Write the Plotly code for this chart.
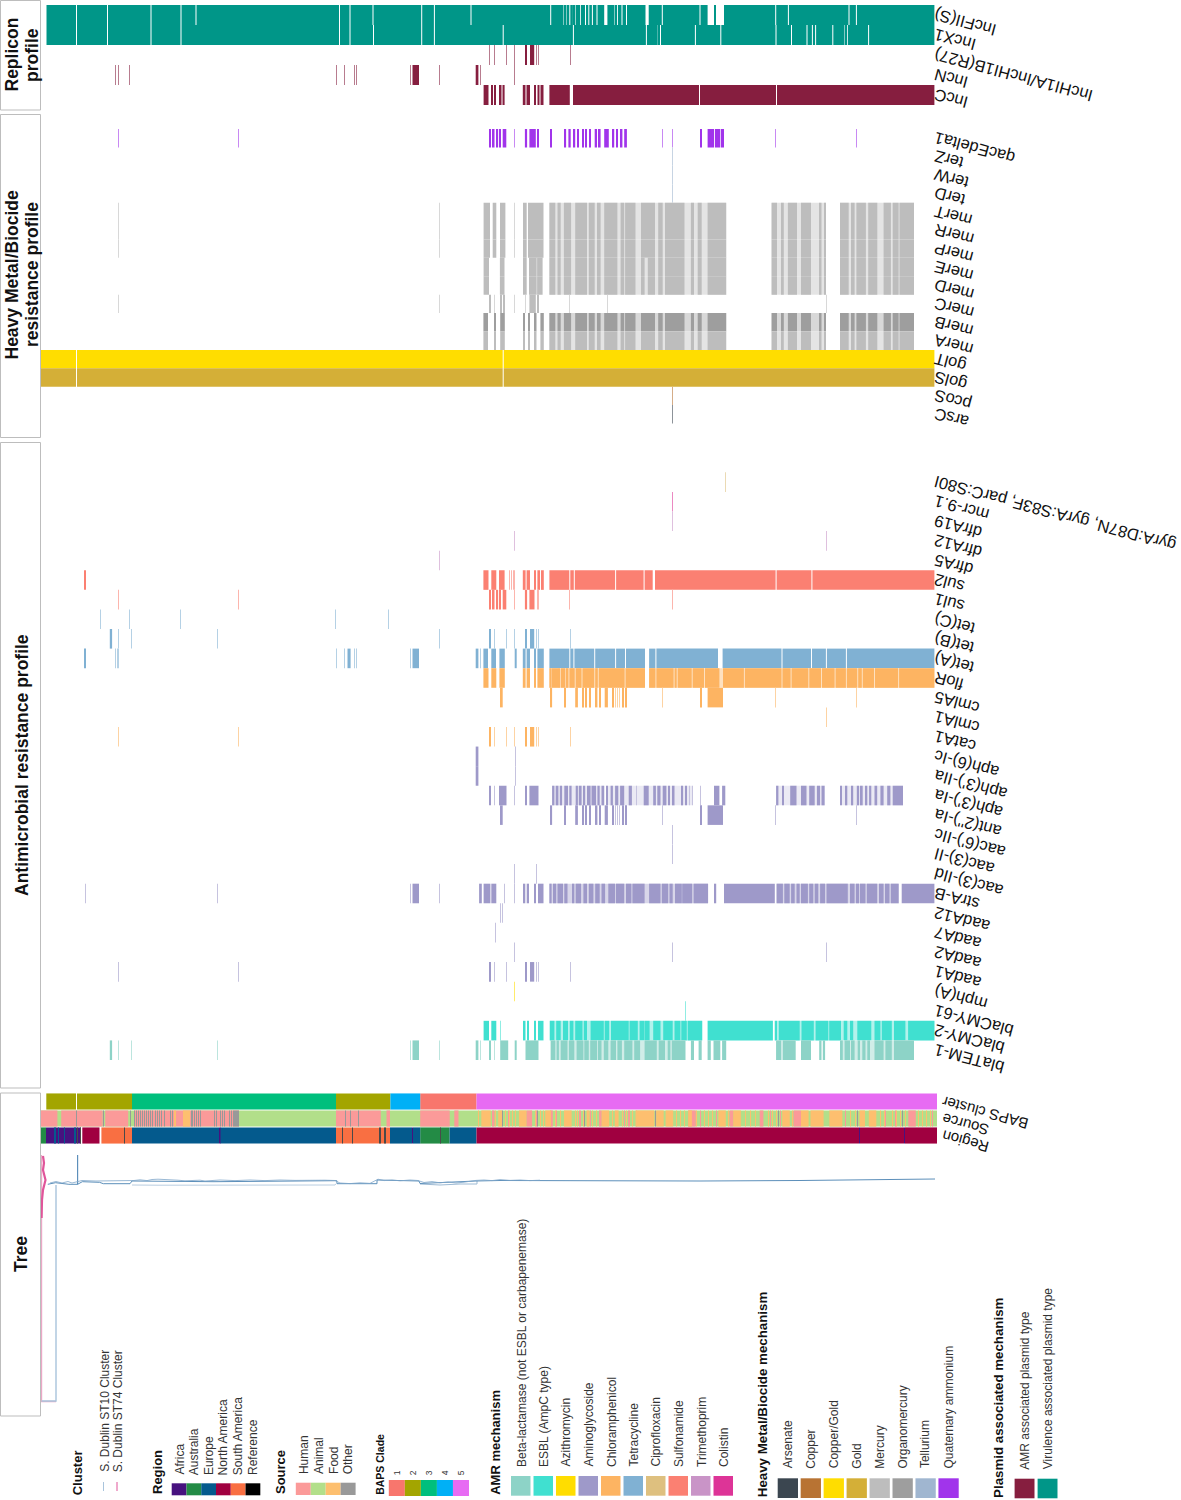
import plotly.graph_objects as go

FONT = "Liberation Sans"
W, H = 1181, 1500


def cut(start, end, gaps):
    out, cur = [], start
    for g in gaps:
        a, b = g if isinstance(g, tuple) else (g - 0.5, g + 0.5)
        out.append((cur, a))
        cur = b
    out.append((cur, end))
    return out


# ---- colours
AMR_NAMES = ["Beta-lactamase (not ESBL or carbapenemase)", "ESBL (AmpC type)", "Azithromycin", "Aminoglycoside",
             "Chloramphenicol", "Tetracycline", "Ciprofloxacin", "Sulfonamide", "Trimethoprim", "Colistin"]
AMR_COLS = ["#8DD3C7", "#40E0D0", "#FFDD00", "#9E99C9", "#FDB462", "#80B1D3", "#DEC07F", "#FB8072", "#C994C7", "#DD3497"]
HM_NAMES = ["Arsenate", "Copper", "Copper/Gold", "Gold", "Mercury", "Organomercury", "Tellurium", "Quaternary ammonium"]
HM_COLS = ["#3B4650", "#B87333", "#FFDD00", "#D4AF37", "#BDBDBD", "#9E9E9E", "#A0B6D0", "#A134EB"]
PL_NAMES = ["AMR associated plasmid type", "Virulence associated plasmid type"]
PL_COLS = ["#861E3F", "#009688"]
REGION_NAMES = ["Africa", "Australia", "Europe", "North America", "South America", "Reference"]
REGION_COLS = ["#47127F", "#238B45", "#045A8D", "#A00040", "#F96F42", "#000000"]
SOURCE_NAMES = ["Human", "Animal", "Food", "Other"]
SOURCE_COLS = ["#FB9A99", "#B2DF8A", "#FDBF6F", "#999999"]
BAPS_NAMES = ["1", "2", "3", "4", "5"]
BAPS_COLS = ["#F8766D", "#A3A500", "#00BF7D", "#00B0F6", "#E76BF3"]

# ---- shared stretches of tree positions
SINGLE_SET = [489.5, 494, 506, 514.7, (525.5, 526.6), (530, 534.2), 536.5, 538.5, 570.2]
MER_RIGHT = [(549.4, 555.3), (557.5, 560.7), (563.9, 571.1), (575.2, 587), (588.8, 594.7), (597, 600.6), (604.2, 617.4),
             (620.6, 624.2), (625.1, 635.5), (641, 655), (658.2, 662.7), (665, 684.5), (690.9, 694), (697.7, 701.7),
             (707.6, 726.2), (771.6, 777), (781, 783.8), (787.9, 797), (801, 811), (819.7, 821.5), (824.6, 826),
             (840, 848.7), (851, 854.6), (856.4, 865.9), (868.2, 877.3), (883.6, 890.9), (892.7, 898.6), (899.5, 914)]
MER_E_RIGHT = [(549.4, 555.3), (557.5, 560.7), (563.9, 571.1), (575.2, 587), (588.8, 594.7), (597, 600.6), (604.2, 617.4),
               (620.6, 624.2), (625.1, 635.5), (641, 644.6), (647.8, 655), (658.2, 662.7), (665, 684.5), (690.9, 694),
               (697.7, 701.7), (707.6, 726.2), (771.6, 777), (781, 783.8), (787.9, 797), (801, 811), (819.7, 821.5),
               (824.6, 826), (840, 848.7), (851, 854.6), (856.4, 865.9), (868.2, 877.3), (883.6, 890.9), (892.7, 898.6),
               (899.5, 914)]
MER_B_LEFT = [(483.4, 488), (494, 496), (500.2, 504.8), (523, 525), (528, 530), (534.6, 536.5), (540.4, 543.8)]
CML_ANT = [(500.8, 502.7), (550.7, 552.1), (564.8, 565.7), (575.2, 577.9), (582, 583.8), (585.6, 587), (589.3, 590.6),
           (595.6, 597.4), (599.2, 600.1), (604.7, 607.9), (612.9, 613.8), 615.3, 617.6, 619.9, (622.4, 623.3),
           (625.6, 626.9), 662.7, (700, 701.7), (707.6, 723), 775.9, 856.6]

# ---- Replicon rows
REP_LABELS = ["IncFII(S)", "IncX1", "IncHI1A/IncHI1B(R27)", "IncN", "IncC"]
REP_COLORS = [PL_COLS[1], PL_COLS[1], PL_COLS[0], PL_COLS[0], PL_COLS[0]]
REP_SPANS = [
    cut(46.5, 934.4, [76.5, 107.5, 151, 181, 196, 339.5, 350, 373, 421.7, 434.4, 471, 550.7, 564, 566, 569.8, 573.4, 575.9,
                      578, 580.7, 583, 585.5, 588.8, 592.4, 597, (604.2, 607.4), 615, 617.4, 622, 626.5, (645.5, 648.7),
                      662.3, 700, (707.6, 714), (716, 724), 775.7, 788.4, 849, 856.4]),
    cut(46.5, 934.4, [76.5, 107.5, 151, 181, 339.5, 350, 373.5, 421.7, 434.4, 503.2, 573.4, 646.4, 658.2, 660.5, 695.4,
                      720.8, 776, 791.5, 807, 812.4, 815.6, 832.8, 845, 847.3, 868.6]),
    SINGLE_SET,
    [115.6, 118.6, 129.4, 336.8, 344.8, 354, 356.7, 410.3, (412.5, 419), 439.3, (475.7, 478.4), 480, 514.7],
    [(483.6, 488.5), (491.3, 493), (494, 496), (499, 501.5), (502.5, 504.6), (522.8, 525.5), (526.5, 530), (534.6, 536),
     (537.5, 539.5), (540.5, 543.5)] + cut(549.4, 934.4, [(569.8, 573), 699.5, 776.5]),
]

# ---- Heavy metal rows
HM_LABELS = ["qacEdelta1", "terZ", "terW", "terD", "merT", "merR", "merP", "merE", "merD", "merC", "merB", "merA",
             "golT", "golS", "pcoS", "arsC"]
HM_ROW_COLORS = [HM_COLS[7], HM_COLS[6], HM_COLS[6], HM_COLS[6], HM_COLS[4], HM_COLS[4], HM_COLS[4], HM_COLS[4], HM_COLS[4],
                 HM_COLS[4], HM_COLS[5], HM_COLS[4], HM_COLS[2], HM_COLS[3], HM_COLS[1], HM_COLS[0]]
QAC = [118.6, 238, (489, 490.9), (492.7, 494.5), (496.3, 498.1), (499.9, 500.8), (502.7, 506.3), 514.4,
       (524.9, 527.1), (529.4, 535.8), (537.1, 538.9), (550.7, 552), (564.8, 566.1), (568.4, 570.7), (573.4, 575.2),
       (577, 578.8), (582, 583.8), (585.2, 587), (589.3, 590.6), (594.7, 597), (598.8, 600.6), (604.2, 608.8),
       (612.4, 614.2), (616, 617.8), (620.6, 622.4), (624.2, 626.9), 662.3, 672.3, (700, 701.7), (707.6, 714),
       (714.9, 720.3), (721, 724), 775.7, 856.4]
MER_TRP = [118.6, 439.3, (483.6, 490), (492.7, 496.3), (500, 505.4), 514.9, (523, 526.7), (528, 543.5)] + MER_RIGHT
MER_ED = [(483.6, 489), (499.9, 504.5), (523, 526.7), (529, 536.7), (537.1, 542.6)] + MER_E_RIGHT
MER_C = [118.6, 439.3, (489.5, 491), 494, (500.2, 501.8), (503.2, 505), 514.7, 525.5, (529.4, 535.8), (537.1, 538.9),
         569.8, 607, 826]
MER_AB = MER_B_LEFT + MER_RIGHT
HM_SPANS = [QAC, [672.3], [672.3], [672.3], MER_TRP, MER_TRP, MER_TRP, MER_ED, MER_ED, MER_C, MER_AB, MER_AB,
            cut(41, 934.4, [76.5, 503.2]), cut(41, 934.4, [76.5, 503.2]), [672.3], [672.3]]
MER_UNDER = [(549.4, 726.2), (771.6, 826), (840, 914)]
HM_UNDER = {"merT": MER_UNDER, "merR": MER_UNDER, "merP": MER_UNDER, "merE": MER_UNDER, "merD": MER_UNDER,
            "merB": MER_UNDER, "merA": MER_UNDER}

# ---- AMR rows
AMR_LABELS = ["gyrA:D87N, gyrA:S83F, parC:S80I", "mcr-9.1", "dfrA19", "dfrA12", "dfrA5", "sul2", "sul1", "tet(C)", "tet(B)",
              "tet(A)", "floR", "cmlA5", "cmlA1", "catA1", "aph(6)-Ic", "aph(3')-IIa", "aph(3')-Ia", "ant(2'')-Ia",
              "aac(6')-IIc", "aac(3)-II", "aac(3)-IId", "strA-B", "aadA12", "aadA7", "aadA2", "aadA1", "mph(A)",
              "blaCMY-61", "blaCMY-2", "blaTEM-1"]
AMR_ROW_COLORS = [AMR_COLS[6], AMR_COLS[9], AMR_COLS[8], AMR_COLS[8], AMR_COLS[8], AMR_COLS[7], AMR_COLS[7], AMR_COLS[5],
                  AMR_COLS[5], AMR_COLS[5], AMR_COLS[4], AMR_COLS[4], AMR_COLS[4], AMR_COLS[4], AMR_COLS[3], AMR_COLS[3],
                  AMR_COLS[3], AMR_COLS[3], AMR_COLS[3], AMR_COLS[3], AMR_COLS[3], AMR_COLS[3], AMR_COLS[3], AMR_COLS[3],
                  AMR_COLS[3], AMR_COLS[3], AMR_COLS[2], AMR_COLS[1], AMR_COLS[1], AMR_COLS[0]]
SUL2 = [(84.3, 85.7), (483.4, 488.5), (491.3, 496.3), (499, 504.6), 509.5, 511, 513, 514.4, (522.8, 525.6), (526.6, 530),
        (534.6, 536), (537.4, 540), (541, 543.8)] + cut(549.4, 934.4, [569.8, 574.3, 615.6, 644.1, (652.7, 655), 776.1, 811.9])
SUL1 = [118.6, 238, (489, 490.9), (492.7, 494.5), (496.3, 498.1), (499.9, 500.8), (502.7, 506.3), 514.4,
        (524.9, 527.1), (529.4, 534.5), 537, 538.5, 569.8, 672.3]
TET_C = [100.3, 129.4, 180.6, 335.6, 388.8]
TET_B = [(109.8, 112.1), 118.6, 131.6, 217.8, 439.3, (489.5, 491), 494, 506, 514.7, (525.5, 526.6), (530, 534.2), 536.5,
         538.5, 570.2]
TET_A = [(84.3, 85.7), 115.6, 117.6, 118.6, 336.8, 344.8, (347.5, 350.6), 354, 356.7, 410.3, (412.5, 419),
         (475.7, 478.4), 480, (483.4, 488), (491.3, 496), (499.4, 504.8), (514.7, 516.7), (522.8, 525.6), (526.6, 530),
         (534.6, 536), (537.4, 543.8)] + cut(549.4, 934.4, [569.8, 573.9, 594.7, 615.6, 625.5, (645, 649.1), 655.9, (718, 722.6),
                                                           782, 811.5, 826.4, 846.4])
FLOR = [(483.4, 488.5), (491.3, 496.3), (499.4, 504.8), (522.8, 525.6), (526.6, 530), (534.6, 536), (537.4, 543.8)] + \
    cut(549.4, 934.4, [552.1, 554.4, 556.2, 558.4, 560.7, 563, 565.2, 568.9, 575.2, 582, 594.7, 598.3, 625.1, (645, 649.1),
                       655.9, 674.1, 677.2, 692.2, 704.5, (719.4, 723), 744.4, 782, 791.1, 808.8, 821.5, 835.1, 846.4, 857.7,
                       862.3, 874.5, 898.6])
CAT_A1 = [118.6, 238, (489.5, 491), 494, 506, 514.7, (525.5, 526.6), (530, 534.2), 536.5, 538.5, 570.2]
APH_6 = [(475.7, 478.4), 515.9]
APH_IA = [(489.5, 491), 494, (499, 506.5), 514.7, (525.5, 526.6), (529.4, 538.5), (552.1, 554.4), (555.7, 558.4), (559.8, 562.1),
          (564.3, 568), (569.3, 571.6), (575.7, 577.9), (578.8, 581.6), (583.4, 585.2), (587, 590.6), (591.5, 596.1),
          (597.4, 599.7), (601.5, 604.2), (606, 607.9), (610.6, 612.9), (615.1, 618.3), (620.1, 624.2), (628.7, 631.9),
          636.4, (643.7, 648.7), (653.2, 655.9), (657.3, 660.5), (662.7, 666.4), (668.2, 670), (672.7, 674.5), (681.3, 683.1),
          (685, 686.8), 689, 692.2, 700.4, (714, 719.4), (722.1, 725.3), (776.1, 778.4), (782, 783.8), (790.2, 796.5),
          (801, 806.5), (809.2, 814.7), (816.9, 820.1), (821.5, 824.6), (840, 841.9), (845.5, 847.3), (851, 853.2),
          (856.8, 859.1), (860.9, 862.7), (865.4, 867.3), (869.1, 871.3), (874.5, 877.2), (880.4, 883.6), (887.2, 890.4),
          (892.7, 903)]
STRA = [85, 217.8, 410.3, (412.5, 419), 439.3, (479.1, 481.8), (483.6, 490.4), (491.3, 496.3), 504, 514.4, (523, 525.3),
        (526.7, 529), (534.4, 536), (538, 543.5), (549.4, 551.6), (553, 556.2), (557.5, 563), (564.3, 567.5), (572, 574.3),
        (575.7, 581.1), (583.4, 587), (588.8, 593.4), (595.2, 599.7), (601.5, 605.1), (608.3, 615.1), (616, 624.2), (626, 631.4),
        (632.4, 644.6), (649.1, 660.5), (661.8, 668.2), (669.5, 672.7), (675, 681.8), (682.2, 692.2), (693.6, 708.1),
        (714, 716.2), (724, 774.8), (776.6, 782.9), (784.3, 789.7), (791.1, 794.7), (796.5, 799.7), (801, 807.9),
        (809.2, 813.3), (814.7, 818.3), (820.1, 825.1), (826.5, 847.8), (850, 854.6), (855.9, 859.1), (860, 865.5),
        (866.8, 877.2), (879, 883.6), (885, 889.5), (890.8, 898.6), (901.7, 934.4)]
AAD_A1 = [118.6, 238, (489.5, 491), 494, 506, (525.5, 526.6), (530, 534.2), 536.5, 538.5, 570.2]
CMY_2 = [(483.6, 489), (491.3, 496.3), 500.4, (523, 525.5), (527, 529), (534.5, 535.5), (538, 543.5), (549.8, 554.4),
         (556.2, 560.7), (563, 568), (569.8, 573.4), (575.2, 582.5), (583.8, 587), (590.6, 603.8), (604.7, 609.2), (611, 628.7),
         (629.6, 637.8), (639.6, 644.6), (645, 649.6), (653.2, 660.5), (663.2, 672.7), (674.5, 680.4), (681.3, 686.8),
         (687.7, 702.2), (707.6, 772.9), (774.8, 777), (778.8, 799.7), (801.5, 813.8), (815.6, 828.3), (829.2, 841),
         (843.7, 847.3), (850, 853.2), (857.3, 871.3), (874.5, 880.4), (881.8, 891.8), (894, 905.4), (908.1, 934.4)]
TEM_1 = [(109.8, 112.1), 118.6, 131.6, 217.8, 410.3, (412.5, 419), 439.3, (475.7, 478.4), 480, (489.5, 491), 494, (500.2, 508.2),
         (514.7, 516.7), (525.5, 538.5), (550.7, 555.3), (556.6, 558.9), (560.7, 567.5), (568.9, 574.3), (576.6, 583.4),
         (584.3, 588.8), (590.2, 597), (597.9, 601.5), (603.8, 608.3), (610.6, 616), (617.4, 621.9), (624.2, 632.4), (634.2, 640.1),
         (644.6, 656.8), (658.7, 665), (667.7, 670.4), (671.8, 685.4), (690.9, 694), (698.6, 701.7), (707.6, 710.8), (713.5, 720.3),
         (722.1, 726.2), (776.1, 781.1), (782.9, 795.6), (801, 811), (819.2, 821.5), (822.8, 825.1), (840, 842.8), (844.6, 850),
         (851, 854.6), (857.7, 860), (862.3, 865.5), (867.3, 870), (874.5, 883.6), (885.4, 891.8), (894, 914)]
AMR_SPANS = [[725.3], [672.3], [672.3], [514.4, 826], [439.3], SUL2, SUL1, TET_C, TET_B, TET_A, FLOR, CML_ANT, [826], CAT_A1,
             APH_6, APH_6, APH_IA, CML_ANT, [672.3], [672.3], [514.7, 536.9], STRA, [500.6, 502.8], [495.2],
             [514.7, 672.3, 826], AAD_A1, [514.7], [685], CMY_2, TEM_1]
AMR_UNDER = {"floR": [(549.4, 645), (649.1, 934.4)],
             "aph(3')-Ia": [(552.1, 604.2), (606, 692.2), (776.1, 825), (840, 903)],
             "strA-B": [(549.4, 708), (776.6, 899)],
             "blaCMY-2": [(549.8, 702.2), (774.8, 934.4)],
             "blaTEM-1": [(550.7, 685.4), (776.1, 795.6), (840, 914)]}

# ---- annotation tracks
META_LABELS = ["BAPS cluster", "Source", "Region"]
BAPS_TRACK = {1: [(420.2, 476.5)], 2: [(46.3, 76), (77, 132), (336, 390.4)], 3: [(132, 336)], 4: [(390.4, 420.2)], 5: [(476.5, 937)]}
SOURCE_TRACK = {
    "Animal": [(41, 937)],
    "Human": [(41, 57.4), (61.2, 102.6), (105.2, 128.2), (134, 239), (336, 380.8), (386.5, 390),
              (420.2, 449.7), (454.3, 458.5), (492.6, 494.5), (526.4, 532.1), (550.9, 552.8), (579.1, 581), (599.8, 601.7),
              (628, 629.9), (688.2, 695.7), (729.6, 733.3), (759.7, 763.4), (793.5, 801), (908.3, 915.8),
              508, 536, 556, 590, 624, 636, 700, 716, 770, 780, 845, 885, 895, 932],
    "Food": [(174, 176), (183, 190), (481.3, 490.7), (498.2, 502), (518.9, 526.4), (545.2, 550.9), (564, 571.6), (586.6, 589.6),
             (601.7, 609.2), (614.8, 618.6), (635.5, 654.3), (656.2, 663.7), (665.6, 673.2), (688.2, 691.9), (718.3, 725.8),
             (733.3, 740.9), (782.2, 789.8), (801, 808.6), (810.5, 823.6), (829.3, 842.4), (859.4, 865), (868.8, 876.3),
             478, 495, 505, 509, 512, 515, 535, 540, 543, 555, 560, 575, 577, 583, 592, 596, 612, 622, 626, 632, 676, 680, 684,
             696, 704, 708, 712, 728, 745, 750, 755, 768, 772, 776, 792, 850, 855, 880, 884, 892, 896, 900, 905, 918, 922, 926, 930],
    "Other": [76, 103.5, 130, 134, 136, 138, 140, 142, 144, 146, 148, 150, 152, 155, 157, 159, 161, 164, 170, 172,
              (191, 193), 194, 196, 198, 200, 214, 216, 220, 222, 224, 229, 231, 233, 234, 235, 236, 237, 238,
              345, 350, 358, 502, 537.7, 584.7, 655.1, 778.5, 857.5, 902.6],
}
REGION_TRACK = {
    "Australia": [(41, 46), (420.2, 449.6)],
    "Africa": [(46, 81), (219, 220.5), 412, 859.4, 904.5],
    "Europe": [(54, 55.5), (58, 59), (64, 65), (74, 76), (132, 219), (220.5, 336), (390, 412), (413, 420.2), (449.6, 476.5)],
    "North America": [(82.3, 99.5), (476.5, 859), (860, 904), (905, 937)],
    "South America": [(101.4, 132), (336, 390)],
    "Reference": [(77, 78), (80, 81), (124, 125), (342, 343), (352, 353), (379, 381), (384, 386), (440, 441)],
}
REGION_STRIPE_COLS = {"Australia": REGION_COLS[1], "Africa": REGION_COLS[0], "Europe": REGION_COLS[2],
                      "North America": REGION_COLS[3], "South America": REGION_COLS[4], "Reference": "#4A4A4A"}

# ---- tree
TREE_MAIN_X = [47.8, 55.5, 68.9, 77.6, 77.6, 77.6, 82.3, 99.5, 103.3, 130, 132, 180, 214, 336.8, 337, 377, 377, 419, 420, 476, 500, 700, 800, 935]
TREE_MAIN_Y = [1184.3, 1182.7, 1184.3, 1184.3, 1155, 1184.3, 1181.7, 1182.3, 1183.7, 1183.7, 1181, 1181, 1181.7, 1180.7, 1183.7, 1183.7, 1180, 1181, 1183.5, 1181, 1180.5, 1181, 1180.5, 1179]
TREE_HAIR_X = [50, 56, 62, 68, 72, 82, 90, 96, 134, 140, 147, 152, 158, 165, 172, 178, 185, 200, 205, 220, 235, 250, 265, 280, 295, 310, 325, 335,
               340, 350, 360, 370, 378, 384, 392, 400, 410, 418, 424, 432, 440, 448, 456, 464, 476, 484, 492, 500, 510, 520, 530, 540]
TREE_HAIR_Y = [1183, 1181.5, 1183, 1181.5, 1183, 1180.5, 1180.8, 1181, 1180.5, 1179.8, 1180.6, 1179.5, 1179.2, 1179.3, 1179.5, 1180.2, 1180.8, 1180.2, 1181,
               1180, 1180.6, 1180, 1180.6, 1180, 1180.4, 1180, 1180.2, 1180.5,
               1183, 1183.6, 1182.8, 1183.4, 1179.2, 1180.6, 1180, 1180.8, 1180, 1180.5, 1182.5, 1181.6, 1182.8, 1182, 1183, 1182.2, 1180.4, 1180, 1180.6, 1179.6,
               1180.4, 1180, 1180.6, 1180.2]
TREE_LOWER_X = [132, 158, 335, 336]
TREE_LOWER_Y = [1185, 1185.2, 1185, 1183.7]
TREE_BOX_X = [420, 440, 460, 477, 477]
TREE_BOX_Y = [1184, 1185, 1184, 1184, 1181]
TREE_ST10_X = [41.5, 56, 56]
TREE_ST10_Y = [1401, 1401, 1185]
TREE_ST74_X = [56, 41.5, 41.5]
TREE_ST74_Y = [1401.5, 1401.5, 1155]
TREE_ST74_TIPS_X = [43, 44, 43, 44.5, 45.5, 44.5, 43, 42, 41.6, 41.6]
TREE_ST74_TIPS_Y = [1156, 1163, 1170, 1175, 1180, 1184, 1190, 1200, 1210, 1218]

fig = go.Figure()


def tint(col, amount):
    r, g, b = int(col[1:3], 16), int(col[3:5], 16), int(col[5:7], 16)
    return "#%02x%02x%02x" % tuple(int(v + (255 - v) * amount) for v in (r, g, b))


def add_rows(axis, labels, colors, spans, under=None):
    under = under or {}
    for i, (row, col) in enumerate(zip(spans, colors)):
        if labels[i] in under:
            sp = under[labels[i]]
            pale = tint(col, 0.8 if labels[i].startswith("aph") else 0.6)
            fig.add_trace(go.Bar(x=[b - a for a, b in sp], base=[a for a, b in sp], y=[i] * len(sp), orientation="h", width=1.0,
                                 yaxis=axis, xaxis="x", marker=dict(color=pale, line=dict(width=0)),
                                 showlegend=False, hoverinfo="skip", name=labels[i] + " (blend)"))
        base, wid, cols = [], [], []
        for s in row:
            if isinstance(s, tuple):
                base.append(s[0])
                wid.append(s[1] - s[0])
                cols.append(col)
            else:
                base.append(int(s) + 0.2)
                wid.append(0.6)
                cols.append(tint(col, 0.42))
        fig.add_trace(go.Bar(x=wid, base=base, y=[i] * len(base), orientation="h", width=1.0, yaxis=axis, xaxis="x",
                             marker=dict(color=cols, line=dict(width=0)), showlegend=False, hoverinfo="skip",
                             name=labels[i]))


add_rows("y", REP_LABELS, REP_COLORS, REP_SPANS)
add_rows("y2", HM_LABELS, HM_ROW_COLORS, HM_SPANS, HM_UNDER)
add_rows("y3", AMR_LABELS, AMR_ROW_COLORS, AMR_SPANS, AMR_UNDER)

meta_names, meta_cols, meta_spans, meta_rows = [], [], [], []
for k, v in BAPS_TRACK.items():
    meta_names.append(f"BAPS {k}"); meta_cols.append(BAPS_COLS[k - 1]); meta_spans.append(v); meta_rows.append(0)
for n in ["Animal", "Human", "Food", "Other"]:
    meta_names.append(n); meta_cols.append(SOURCE_COLS[SOURCE_NAMES.index(n)]); meta_spans.append(SOURCE_TRACK[n]); meta_rows.append(1)
for n, v in REGION_TRACK.items():
    meta_names.append(n); meta_cols.append(REGION_STRIPE_COLS[n]); meta_spans.append(v); meta_rows.append(2)
for name, col, row, r in zip(meta_names, meta_cols, meta_spans, meta_rows):
    base = [s[0] if isinstance(s, tuple) else int(s) + 0.2 for s in row]
    wid = [s[1] - s[0] if isinstance(s, tuple) else 0.6 for s in row]
    fig.add_trace(go.Bar(x=wid, base=base, y=[r] * len(base), orientation="h", width=0.95, yaxis="y4", xaxis="x",
                         marker=dict(color=col, line=dict(width=0)), showlegend=False, hoverinfo="skip", name=name))

BLUE, PALE_BLUE, PINK, PALE_PINK = "#5C8FBA", "#A9C4DC", "#E0559A", "#EBA8C6"
for xs, ys, col, w in [(TREE_LOWER_X, TREE_LOWER_Y, "#B9CDE0", 1), (TREE_BOX_X, TREE_BOX_Y, "#9DBAD4", 1),
                       (TREE_ST74_X, TREE_ST74_Y, PALE_PINK, 1.4), (TREE_ST10_X, TREE_ST10_Y, PALE_BLUE, 1.4),
                       (TREE_MAIN_X, TREE_MAIN_Y, BLUE, 1), (TREE_HAIR_X, TREE_HAIR_Y, "#7FA6C9", 0.8),
                       (TREE_ST74_TIPS_X, TREE_ST74_TIPS_Y, PINK, 2.2)]:
    fig.add_trace(go.Scatter(x=xs, y=ys, mode="lines", line=dict(color=col, width=w), yaxis="y5", xaxis="x",
                             showlegend=False, hoverinfo="skip"))


def rows_axis(labels, top, bottom, pos=934.0, size=16.5):
    n = len(labels)
    row_h = (bottom - top) / n
    pad_t, pad_b = min(top, 20), 20
    return dict(domain=[1 - (bottom + pad_b) / H, 1 - (top - pad_t) / H],
                range=[n - 0.5 + pad_b / row_h, -0.5 - pad_t / row_h], tickmode="array", tickvals=list(range(n)),
                ticktext=labels, side="left", anchor="free", position=pos / W, tickangle=-165, ticks="", ticklabelshift=-4,
                showgrid=False, zeroline=False, showline=False, automargin=False, fixedrange=True,
                tickfont=dict(family=FONT, size=size, color="#111111"))


ax_rep = rows_axis(REP_LABELS, 5, 105)
ax_hm = rows_axis(HM_LABELS, 129, 423.5)
ax_amr = rows_axis(AMR_LABELS, 472.3, 1060)
ax_meta = rows_axis(META_LABELS, 1093, 1144, pos=942.0, size=15)

fig.update_layout(
    width=W, height=H, margin=dict(l=0, r=0, t=0, b=0), autosize=False, barmode="overlay",
    plot_bgcolor="rgba(0,0,0,0)", paper_bgcolor="white",
    font=dict(family=FONT), showlegend=False,
    xaxis=dict(domain=[0, 1], range=[0, W], visible=False, fixedrange=True, anchor="y5"),
    yaxis=ax_rep, yaxis2=ax_hm, yaxis3=ax_amr, yaxis4=ax_meta,
    yaxis5=dict(domain=[0, 1], range=[H, 0], visible=False, fixedrange=True, anchor="x"),
)

anns, shapes = [], []


def vtext(x, y, text, size=12, bold=False, color="#333333", anchor="bottom"):
    anns.append(dict(x=x, y=y, xref="x", yref="y5", text=f"<b>{text}</b>" if bold else text, showarrow=False, textangle=-90,
                     xanchor="center", yanchor=anchor, font=dict(family=FONT, size=size, color=color), borderpad=0))


def frame(x0, y0, x1, y1):
    shapes.append(dict(type="rect", xref="x", yref="y5", x0=x0, y0=y0, x1=x1, y1=y1, line=dict(color="#BDBDBD", width=1), fillcolor="rgba(0,0,0,0)"))


def swatch(x0, y0, x1, y1, col):
    shapes.append(dict(type="rect", xref="x", yref="y5", x0=x0, y0=y0, x1=x1, y1=y1, line=dict(width=0), fillcolor=col))


frame(0.5, 0.5, 40.5, 110)
frame(0.5, 114.5, 40.5, 437.5)
frame(0.5, 442.5, 40.5, 1088)
frame(0.5, 1093, 40.5, 1416)
vtext(11.5, 55, "Replicon", 17.5, True, "#111111", "middle")
vtext(32, 55, "profile", 17.5, True, "#111111", "middle")
vtext(11.5, 275, "Heavy Metal/Biocide", 17.5, True, "#111111", "middle")
vtext(32, 275, "resistance profile", 17.5, True, "#111111", "middle")
vtext(22, 765, "Antimicrobial resistance profile", 17.5, True, "#111111", "middle")
vtext(21, 1254, "Tree", 17.5, True, "#111111", "middle")

vtext(77.8, 1496, "Cluster", 13, True, "#111111")
vtext(104.8, 1473, "S. Dublin ST10 Cluster")
vtext(118.3, 1473, "S. Dublin ST74 Cluster")
shapes.append(dict(type="line", xref="x", yref="y5", x0=103.5, x1=103.5, y0=1482, y1=1491, line=dict(color=PALE_BLUE, width=1)))
shapes.append(dict(type="line", xref="x", yref="y5", x0=117, x1=117, y0=1482, y1=1491, line=dict(color=PINK, width=1)))

vtext(157, 1495, "Region", 13, True, "#111111")
for i, (n, c) in enumerate(zip(REGION_NAMES, REGION_COLS)):
    vtext(179 + i * 14.8, 1476, n)
    swatch(171.7 + i * 14.77, 1483.3, 171.7 + (i + 1) * 14.77, 1495.3, c)
vtext(280, 1495, "Source", 13, True, "#111111")
for i, (n, c) in enumerate(zip(SOURCE_NAMES, SOURCE_COLS)):
    vtext(303.6 + i * 14.9, 1475, n)
    swatch(295.8 + i * 14.95, 1482.7, 295.8 + (i + 1) * 14.95, 1495, c)
vtext(379.3, 1496, "BAPS Clade", 10.5, True, "#111111")
for i, (n, c) in enumerate(zip(BAPS_NAMES, BAPS_COLS)):
    vtext(397 + i * 16, 1476.7, n, 8.5)
    swatch(388.8 + i * 16.04, 1480, 388.8 + (i + 1) * 16.04, 1496, c)
vtext(495.3, 1496, "AMR mechanism", 13, True, "#111111")
for i, (n, c) in enumerate(zip(AMR_NAMES, AMR_COLS)):
    vtext(521.3 + i * 22.5, 1467.7, n)
    swatch(511 + i * 22.5, 1476, 530.5 + i * 22.5, 1495.7, c)
vtext(762, 1498.7, "Heavy Metal/Biocide mechanism", 13.3, True, "#111111")
for i, (n, c) in enumerate(zip(HM_NAMES, HM_COLS)):
    vtext(788 + i * 22.96, 1469.3, n)
    swatch(777.7 + i * 22.96, 1478.3, 798 + i * 22.96, 1498, c)
vtext(998.6, 1499.3, "Plasmid associated mechanism", 13.3, True, "#111111")
for i, (n, c) in enumerate(zip(PL_NAMES, PL_COLS)):
    vtext(1025 + i * 22.5, 1470.7, n)
    swatch(1014.6 + i * 23, 1478.7, 1034.5 + i * 23, 1498.3, c)

fig.update_layout(annotations=anns, shapes=shapes)
fig.write_html("out.html", config={"displayModeBar": False},
               post_script="document.body.style.margin='0';document.documentElement.style.overflow='hidden';")
